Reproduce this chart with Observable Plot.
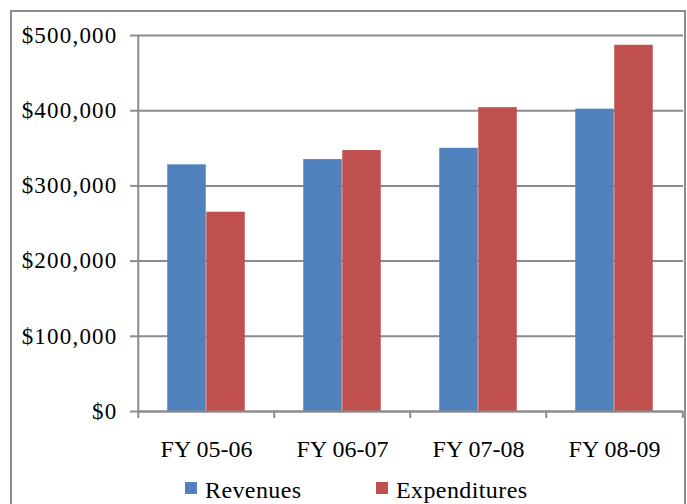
<!DOCTYPE html>
<html><head><meta charset="utf-8">
<script src="https://cdn.jsdelivr.net/npm/d3@7"></script>
<script src="https://cdn.jsdelivr.net/npm/@observablehq/plot@0.6"></script>
<style>
html,body{margin:0;padding:0;background:#fff}
body{width:687px;height:504px;position:relative;overflow:hidden;font-family:"Liberation Serif","Times New Roman",Times,"DejaVu Serif",serif}
#frame{position:absolute;left:10px;top:10px;width:676px;height:540px;border:2px solid #8c8c8c;box-sizing:border-box}
#chart{position:absolute;left:0;top:0}
#legend{position:absolute;top:476px;left:0;width:687px;height:28px;font-size:24px;color:#000;letter-spacing:0.4px}
#legend,.lb{font-family:"Liberation Serif","Times New Roman",Times,"DejaVu Serif",serif}
.sw{position:absolute;width:12px;height:12px;top:6px}
.lb{position:absolute;top:0;line-height:28px;white-space:nowrap}
#chart svg text{font-family:"Liberation Serif","Times New Roman",Times,"DejaVu Serif",serif}
#chart svg g[aria-label="y-axis tick label"] text{letter-spacing:1.2px}
</style></head>
<body>
<div id="frame"></div>
<div id="chart"></div>
<div id="legend">
  <div class="sw" style="left:185px;background:#4F81BD"></div><div class="lb" style="left:205px">Revenues</div>
  <div class="sw" style="left:376px;background:#C0504D"></div><div class="lb" style="left:396px">Expenditures</div>
</div>
<script>
const categories = ["FY 05-06", "FY 06-07", "FY 07-08", "FY 08-09"];
const revenues = [328000, 335000, 350000, 402000];
const expenditures = [265000, 347000, 404000, 487000];
const yTicks = [0, 100000, 200000, 300000, 400000, 500000];

const rows = categories.map((c, i) => ({cat: c, rev: revenues[i], exp: expenditures[i]}));
const gray = "#8c8c8c";
const fmt = d => "$" + d3.format(",")(d);
const serif = "'Liberation Serif', 'Times New Roman', Times, 'DejaVu Serif', serif";

const chart = Plot.plot({
  width: 687,
  height: 470,
  marginLeft: 137,
  marginRight: 4,
  marginTop: 35,
  marginBottom: 59,
  style: {fontFamily: serif, color: "#000", background: "transparent"},
  x: {type: "band", domain: categories, padding: 0, axis: null},
  y: {domain: [0, 500000], axis: null},
  marks: [
    Plot.gridY(yTicks, {stroke: gray, strokeOpacity: 1, strokeWidth: 2}),
    Plot.barY(rows, {x: "cat", y: "rev", fill: "#4F81BD", insetLeft: 29.25, insetRight: 68.25}),
    Plot.barY(rows, {x: "cat", y: "exp", fill: "#C0504D", insetLeft: 68.25, insetRight: 29.25}),
    Plot.ruleY([0], {stroke: gray, strokeWidth: 2}),
    Plot.ruleX([categories[0]], {stroke: gray, strokeWidth: 2, dx: -68.25}),
    Plot.ruleX(categories, {stroke: gray, strokeWidth: 2, y1: 0, y2: 0, insetTop: 7, dx: -68.25}),
    Plot.ruleX([categories[categories.length - 1]], {stroke: gray, strokeWidth: 2, y1: 0, y2: 0, insetTop: 7, dx: 68.25}),
    Plot.axisY(yTicks, {tickFormat: fmt, tickSize: 7, tickPadding: 13, fontSize: 23, stroke: gray, strokeWidth: 2, fill: "#000", label: null}),
    Plot.axisX(categories, {tickSize: 0, tickPadding: 28, fontSize: 24, fill: "#000", label: null})
  ]
});
document.getElementById("chart").appendChild(chart);
</script>
</body></html>
